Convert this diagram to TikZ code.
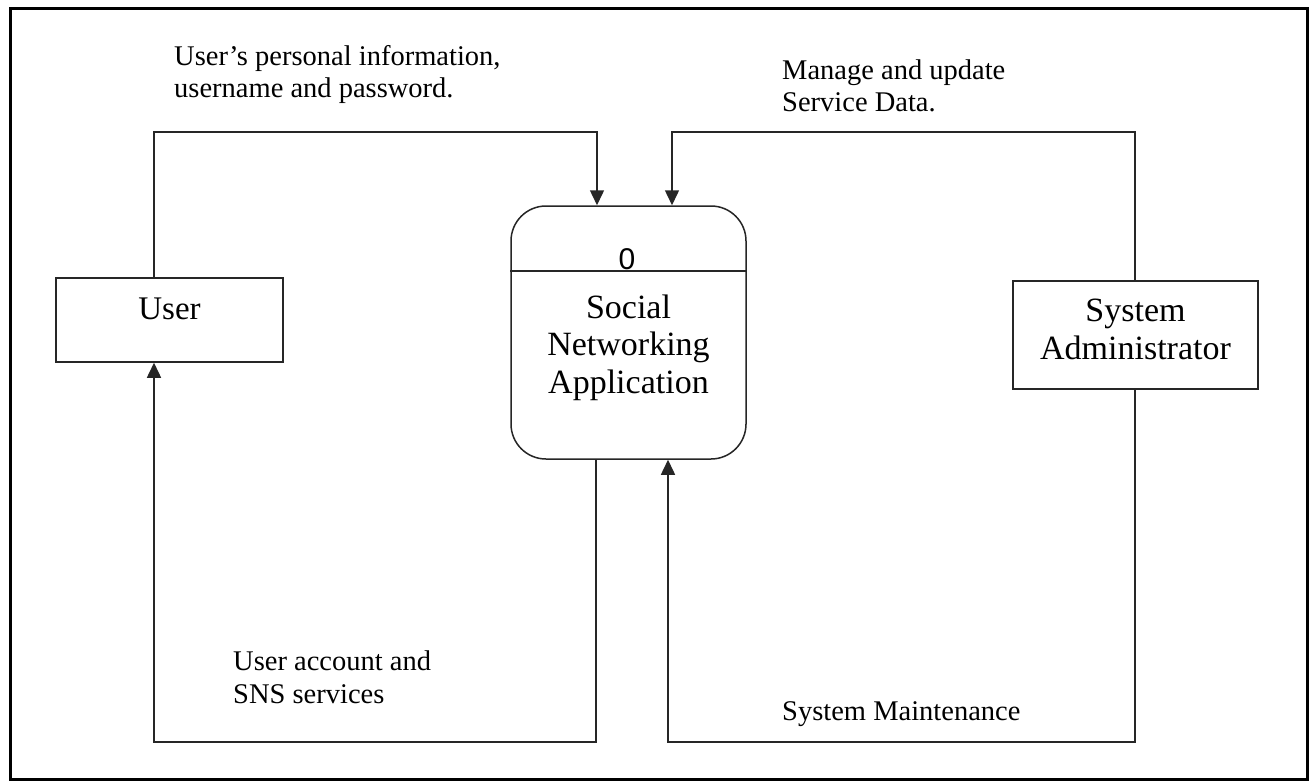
\documentclass[tikz,border=0pt]{standalone}
\usepackage{fontspec}
\setmainfont{Liberation Serif}
\newfontfamily\digitfont{Liberation Sans}
\usetikzlibrary{arrows.meta}
\begin{document}
\begin{tikzpicture}[x=1pt,y=-1pt,
  ink/.style={draw=black!85, line width=1.5pt},
  flow/.style={ink, -{Triangle[length=15pt,width=14pt]}},
  entity/.style={ink, fill=white, inner sep=0pt},
  flowtext/.style={font=\fontsize{28.5}{32.5}\selectfont, align=left, anchor=base west, inner sep=0pt},
  boxtext/.style={font=\fontsize{34}{37.5}\selectfont, align=center, anchor=base, inner sep=0pt}
]
\useasboundingbox (0,0) rectangle (1316,781);
\fill[white] (0,0) rectangle (1316,781);
\draw[line width=3pt] (10,9) rectangle (1307,779);

% external entities and the process (text anchored on its last baseline)
\node[entity, minimum width=227pt, minimum height=84pt] (user) at (169.5,320) {};
\node[boxtext, font=\fontsize{33}{36}\selectfont] (usertext) at (169.5,319) {User};

\node[entity, minimum width=245pt, minimum height=108pt] (sa) at (1135.5,335) {};
\node[boxtext] (satext) at (1135.5,359) {System\\Administrator};

\node[entity, rounded corners=35pt, minimum width=235pt, minimum height=253pt] (sna) at (628.5,332.5) {};
\coordinate (divy) at (0,271);
\draw[ink] (sna.west |- divy) -- (sna.east |- divy);
\node[font=\digitfont\fontsize{30}{34}\selectfont, anchor=base, inner sep=0pt] (pid) at (627,269) {0};
\node[boxtext] (snatext) at (628.5,393) {Social\\Networking\\Application};

% bend points of the data flows
\coordinate (inU) at (154,132);
\coordinate (inA) at (597,132);
\coordinate (inS) at (672,132);
\coordinate (inM) at (1135,132);
\coordinate (outA) at (596,742);
\coordinate (outU) at (154,742);
\coordinate (outM) at (1135,742);
\coordinate (outS) at (668,742);

% data flows
\draw[flow] (user.north -| inU) -- (inU) -- (inA) -- (sna.north -| inA);
\draw[flow] (sa.north -| inM) -- (inM) -- (inS) -- (sna.north -| inS);
\draw[flow] (sna.south -| outA) -- (outA) -- (outU) -- (user.south -| outU);
\draw[flow] (sa.south -| outM) -- (outM) -- (outS) -- (sna.south -| outS);

% flow labels
\node[flowtext] (t1) at (174,98) {User’s personal information,\\username and password.};
\node[flowtext] (t2) at (782,112) {Manage and update\\Service Data.};
\node[flowtext] (t3) at (233,703) {User account and\\SNS services};
\node[flowtext] (t4) at (782,720) {System Maintenance};
\end{tikzpicture}
\end{document}
